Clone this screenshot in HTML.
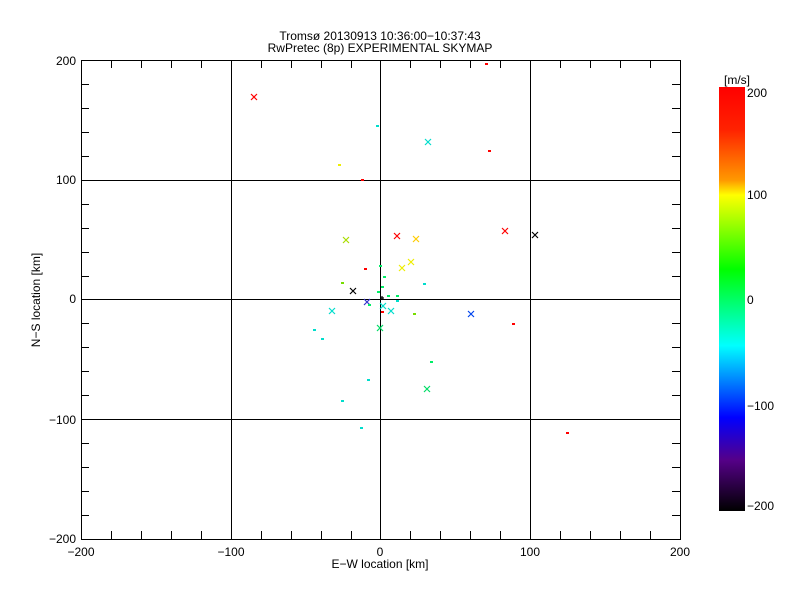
<!DOCTYPE html><html><head><style>body{margin:0;background:#fff}svg{display:block}text{font-family:"Liberation Sans",sans-serif;font-size:12px;fill:#000}</style></head><body>
<svg width="800" height="600" xmlns="http://www.w3.org/2000/svg">
<defs><linearGradient id="cb" x1="0" y1="0" x2="0" y2="1">
<stop offset="0" stop-color="#f00"/><stop offset="0.1" stop-color="#f20"/><stop offset="0.22" stop-color="#f90"/><stop offset="0.255" stop-color="#ff0"/><stop offset="0.43" stop-color="#0f0"/><stop offset="0.61" stop-color="#0ff"/><stop offset="0.78" stop-color="#00f"/><stop offset="0.88" stop-color="#508"/><stop offset="1" stop-color="#000"/></linearGradient></defs>
<text x="380" y="40" text-anchor="middle">Tromsø 20130913 10:36:00−10:37:43</text>
<text x="380" y="52" text-anchor="middle">RwPretec (8p) EXPERIMENTAL SKYMAP</text>
<g stroke="#000" fill="none" stroke-width="1">
<rect x="81.5" y="60.5" width="599" height="479"/>
<path d="M231.5 60V539M380.5 60V539M530.5 60V539M81 180.5H680M81 299.5H680M81 419.5H680"/>
<path d="M81 84.5h8M81 108.5h8M81 132.5h8M81 156.5h8M81 204.5h8M81 228.5h8M81 252.5h8M81 276.5h8M81 323.5h8M81 347.5h8M81 371.5h8M81 395.5h8M81 443.5h8M81 467.5h8M81 491.5h8M81 515.5h8
M672 84.5h8M672 108.5h8M672 132.5h8M672 156.5h8M672 204.5h8M672 228.5h8M672 252.5h8M672 276.5h8M672 323.5h8M672 347.5h8M672 371.5h8M672 395.5h8M672 443.5h8M672 467.5h8M672 491.5h8M672 515.5h8
M111.5 539v-8M141.5 539v-8M171.5 539v-8M201.5 539v-8M261.5 539v-8M291.5 539v-8M321.5 539v-8M351.5 539v-8M410.5 539v-8M440.5 539v-8M470.5 539v-8M500.5 539v-8M560.5 539v-8M590.5 539v-8M620.5 539v-8M650.5 539v-8
M111.5 60v8M141.5 60v8M171.5 60v8M201.5 60v8M261.5 60v8M291.5 60v8M321.5 60v8M351.5 60v8M410.5 60v8M440.5 60v8M470.5 60v8M500.5 60v8M560.5 60v8M590.5 60v8M620.5 60v8M650.5 60v8"/>
</g>
<g font-size="11">
<text x="76" y="65" text-anchor="end">200</text><text x="76" y="184" text-anchor="end">100</text><text x="76" y="303" text-anchor="end">0</text><text x="76" y="424" text-anchor="end">−100</text><text x="76" y="543" text-anchor="end">−200</text>
<text x="81" y="556" text-anchor="middle">−200</text><text x="231" y="556" text-anchor="middle">−100</text><text x="380" y="556" text-anchor="middle">0</text><text x="530" y="556" text-anchor="middle">100</text><text x="680" y="556" text-anchor="middle">200</text>
<text x="380" y="568" text-anchor="middle">E−W location [km]</text>
<text transform="translate(40,300) rotate(-90)" text-anchor="middle">N−S location [km]</text>
</g>
<rect x="719" y="87" width="26" height="424" fill="url(#cb)"/>
<text x="737" y="84" text-anchor="middle">[m/s]</text>
<g font-size="11"><text x="747" y="97">200</text><text x="747" y="199">100</text><text x="747" y="304">0</text><text x="747" y="410">−100</text><text x="747" y="510">−200</text></g>
<g stroke-width="1.2" fill="none">
<path stroke="#f00" d="M251 94l6 6m0-6l-6 6M394 233l6 6m0-6l-6 6M502 228l6 6m0-6l-6 6"/>
<path stroke="#fc0" d="M413 236l6 6m0-6l-6 6"/>
<path stroke="#ad0" d="M343 237l6 6m0-6l-6 6"/>
<path stroke="#ee0" d="M408 259l6 6m0-6l-6 6M399 265l6 6m0-6l-6 6"/>
<path stroke="#000" d="M350 288l6 6m0-6l-6 6M532 232l6 6m0-6l-6 6M380 298h4M382 296v4"/>
<path stroke="#33c" d="M364 299l6 6m0-6l-6 6"/>
<path stroke="#04e" d="M468 311l6 6m0-6l-6 6"/>
<path stroke="#0dc" d="M380 303l6 6m0-6l-6 6M388 308l6 6m0-6l-6 6M329 308l6 6m0-6l-6 6M425 139l6 6m0-6l-6 6"/>
<path stroke="#0d6" d="M377 325l6 6m0-6l-6 6M424 386l6 6m0-6l-6 6"/>
</g>
<g stroke-width="2">
<path stroke="#f00" d="M485 64h3M488 151h3M361 180h3M364 269h3M381 312h3M512 324h3M566 433h3"/>
<path stroke="#ee0" d="M338 165h3"/>
<path stroke="#0dc" d="M376 126h3M423 284h3M341 401h3M360 428h3M367 380h3M321 339h3M313 330h3M396 301h3"/>
<path stroke="#0e6" d="M379 266h3M383 277h3M381 287h3M377 292h3M387 296h3M396 296h3M368 305h3M430 362h3"/>
<path stroke="#7d0" d="M341 283h3M413 314h3"/>
</g>
</svg></body></html>
